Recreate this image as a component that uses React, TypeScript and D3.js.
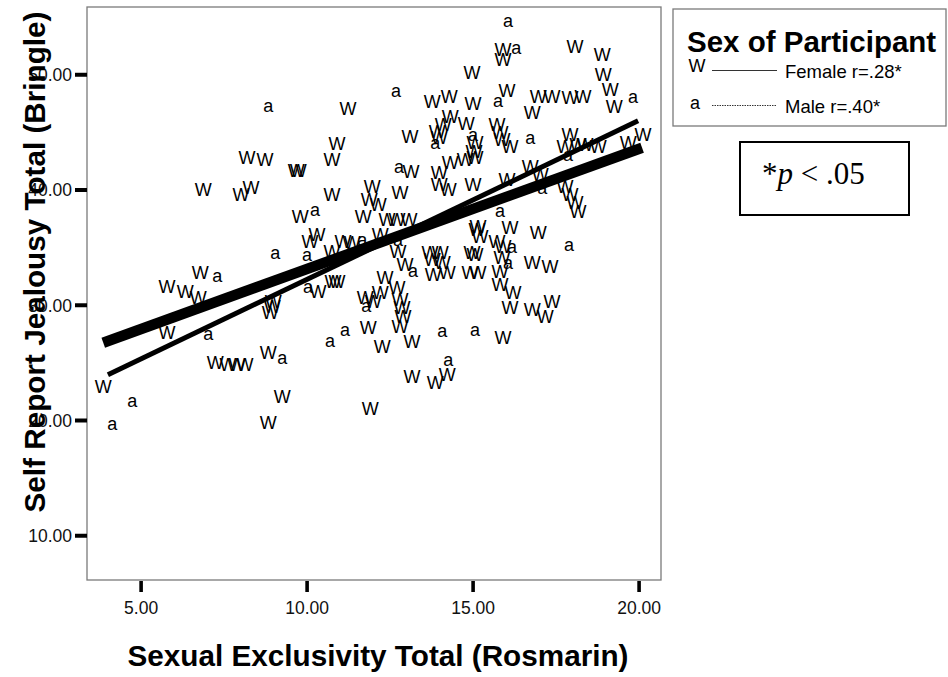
import React from "react";
import * as d3 from "d3";

// ---- data ----
const xTicks = [5, 10, 15, 20];
const yTicks = [10, 20, 30, 40, 50];
const xTitle = "Sexual Exclusivity Total (Rosmarin)";
const yTitle = "Self Report Jealousy Total (Bringle)";
const legendTitle = "Sex of Participant";
const seriesLabels = ["Female r=.28*", "Male r=.40*"];
const seriesMarkers = ["W", "a"];
const noteText = ["*", "p", " < .05"];

const femalePoints: [number, number][] = [
  [8.19, 42.8], [8.73, 42.62], [6.87, 40.02], [8.01, 39.59], [8.31, 40.2],
  [14.97, 50.17], [13.77, 47.66], [14.28, 48.09], [15.0, 47.48], [11.23, 47.05],
  [10.9, 44.01], [13.1, 44.62], [13.92, 45.05], [14.1, 45.66], [14.31, 46.36],
  [14.79, 45.75], [13.98, 44.53], [15.06, 44.1], [10.75, 42.62], [9.67, 41.67],
  [9.73, 41.67], [13.13, 41.58], [13.98, 41.5], [14.31, 42.36], [14.76, 42.62],
  [15.06, 42.8], [11.96, 40.28], [11.87, 39.15], [12.14, 38.72], [12.8, 39.76],
  [13.98, 40.46], [14.25, 40.02], [15.0, 40.46], [10.75, 39.59], [9.79, 37.68],
  [11.69, 37.68], [12.41, 37.42], [12.71, 37.42], [13.07, 37.42], [15.9, 52.17],
  [15.9, 51.3], [18.07, 52.43], [18.89, 51.74], [18.92, 50.0], [19.13, 48.7],
  [19.25, 47.22], [16.02, 48.61], [16.96, 48.09], [17.38, 48.09], [16.78, 46.7],
  [17.92, 48.0], [18.31, 48.09], [15.72, 45.66], [15.81, 44.97], [15.87, 44.36],
  [16.11, 43.75], [17.92, 44.79], [17.77, 43.75], [18.16, 43.93], [18.37, 43.93],
  [18.77, 43.75], [20.12, 44.79], [19.67, 44.1], [16.72, 42.02], [17.02, 41.32],
  [16.02, 40.89], [17.77, 40.28], [17.92, 39.59], [18.07, 38.89], [18.16, 38.11],
  [6.78, 32.82], [5.78, 31.61], [6.33, 31.17], [6.72, 30.65], [5.78, 27.61],
  [8.95, 29.87], [8.89, 29.35], [8.98, 30.3], [7.23, 25.01], [7.62, 24.84],
  [7.89, 24.84], [8.13, 24.84], [8.83, 25.88], [3.86, 22.93], [8.83, 19.8],
  [9.25, 22.06], [10.09, 35.51], [10.3, 36.12], [11.08, 35.51], [11.36, 35.42],
  [12.2, 36.12], [10.75, 34.64], [12.74, 34.64], [12.95, 33.51], [13.7, 34.56],
  [14.01, 34.56], [13.77, 33.95], [14.07, 33.69], [13.8, 32.65], [14.22, 32.82],
  [14.97, 34.56], [14.91, 32.82], [15.12, 36.55], [10.9, 32.04], [10.78, 32.04],
  [10.33, 31.17], [12.35, 32.39], [11.75, 30.65], [11.99, 30.3], [12.2, 31.08],
  [12.71, 31.52], [12.8, 30.48], [12.86, 29.78], [12.89, 29.0], [12.8, 28.13],
  [11.84, 28.05], [12.26, 26.4], [13.16, 26.83], [13.16, 23.8], [13.86, 23.28],
  [14.22, 23.97], [11.9, 21.02], [15.15, 36.81], [15.21, 35.94], [16.11, 36.72],
  [16.96, 36.29], [15.72, 35.51], [15.9, 35.08], [15.06, 34.38], [15.87, 34.12],
  [16.78, 33.69], [17.32, 33.34], [15.15, 32.82], [15.81, 32.91], [15.81, 31.78],
  [16.2, 31.08], [17.38, 30.3], [16.78, 29.61], [17.17, 29.0], [16.11, 29.78],
  [15.9, 27.18], [15.03, 43.32],
];

const malePoints: [number, number][] = [
  [8.83, 47.14], [12.68, 48.44], [13.86, 43.93], [15.0, 44.62], [12.77, 41.84],
  [10.24, 38.11], [16.05, 54.51], [16.3, 52.17], [19.82, 47.92], [15.75, 47.57],
  [16.72, 44.36], [17.86, 42.89], [17.08, 40.02], [15.81, 38.03], [9.04, 34.38],
  [7.29, 32.39], [7.02, 27.35], [9.25, 25.27], [4.73, 21.54], [4.13, 19.54],
  [10.0, 34.21], [11.66, 35.51], [12.74, 35.51], [13.19, 32.82], [10.03, 31.43],
  [11.78, 29.78], [11.14, 27.7], [10.69, 26.75], [14.07, 27.61], [15.06, 27.7],
  [14.25, 25.1], [16.17, 34.9], [17.89, 35.08], [16.05, 33.51],
];

// fitted regression lines, endpoints [x, y]
const femaleFit: [number, number][] = [[3.86, 26.75], [20.09, 43.67]];
const maleFit: [number, number][] = [[4.0, 23.97], [19.97, 46.0]];

const SANS = "'Liberation Sans', Arial, Helvetica, sans-serif";
const SERIF = "'Liberation Serif', 'Times New Roman', serif";

export default function App() {
  const left = 87, right = 661, top = 7, bottom = 580;
  const x = d3.scaleLinear().domain([3.37, 20.66]).range([left, right]);
  const y = d3.scaleLinear().domain([6.16, 55.88]).range([bottom, top]);
  const line = d3.line<[number, number]>().x((d) => x(d[0])).y((d) => y(d[1]));
  const mFont = 18;

  return (
    <svg width={948} height={677} style={{ position: "absolute", left: 0, top: 0, background: "#fff" }}>
      <rect x={0} y={0} width={948} height={677} fill="#fff" />
      {/* frame */}
      <rect x={left} y={top} width={right - left} height={bottom - top} fill="none" stroke="#7a7a7a" strokeWidth={1.3} />

      {/* y ticks */}
      {yTicks.map((t) => (
        <g key={"y" + t}>
          <line x1={75} x2={left} y1={y(t)} y2={y(t)} stroke="#000" strokeWidth={4} />
          <text x={72} y={y(t) + 6.3} textAnchor="end" fontFamily={SANS} fontSize={17.5} fill="#111">
            {t.toFixed(2)}
          </text>
        </g>
      ))}
      {/* x ticks */}
      {xTicks.map((t) => (
        <g key={"x" + t}>
          <line x1={x(t)} x2={x(t)} y1={bottom + 1} y2={592} stroke="#000" strokeWidth={3.6} />
          <text x={x(t)} y={614} textAnchor="middle" fontFamily={SANS} fontSize={17.5} fill="#111">
            {t.toFixed(2)}
          </text>
        </g>
      ))}

      {/* axis titles */}
      <text x={378} y={666} textAnchor="middle" fontFamily={SANS} fontWeight="bold" fontSize={29.7} fill="#000">
        {xTitle}
      </text>
      <text
        transform={`translate(45,262) rotate(-90)`}
        textAnchor="middle"
        fontFamily={SANS}
        fontWeight="bold"
        fontSize={29.7}
        fill="#000"
      >
        {yTitle}
      </text>

      {/* points */}
      {femalePoints.map((p, i) => (
        <text key={"f" + i} x={x(p[0])} y={y(p[1]) + 0.358 * mFont} textAnchor="middle" fontFamily={SANS} fontSize={mFont} fill="#000">
          {seriesMarkers[0]}
        </text>
      ))}
      {malePoints.map((p, i) => (
        <text key={"m" + i} x={x(p[0])} y={y(p[1]) + 0.26 * mFont} textAnchor="middle" fontFamily={SANS} fontSize={mFont} fill="#000">
          {seriesMarkers[1]}
        </text>
      ))}

      {/* fit lines */}
      <path d={line(maleFit) || ""} stroke="#000" strokeWidth={5} fill="none" />
      <path d={line(femaleFit) || ""} stroke="#000" strokeWidth={10.5} fill="none" />

      {/* legend */}
      <rect x={673} y={9} width={273} height={117} fill="#fff" stroke="#7a7a7a" strokeWidth={1.3} />
      <text x={687} y={52} fontFamily={SANS} fontWeight="bold" fontSize={29.5} fill="#000">
        {legendTitle}
      </text>
      <text x={697} y={66 + 0.358 * mFont} textAnchor="middle" fontFamily={SANS} fontSize={mFont} fill="#000">
        {seriesMarkers[0]}
      </text>
      <line x1={712} x2={777} y1={70.5} y2={70.5} stroke="#333" strokeWidth={1} />
      <text x={785} y={78} fontFamily={SANS} fontSize={18.5} fill="#000">
        {seriesLabels[0]}
      </text>
      <text x={695} y={104 + 0.26 * mFont} textAnchor="middle" fontFamily={SANS} fontSize={mFont} fill="#000">
        {seriesMarkers[1]}
      </text>
      <line x1={712} x2={777} y1={105.5} y2={105.5} stroke="#333" strokeWidth={1} strokeDasharray="1.5,1" />
      <text x={785} y={113} fontFamily={SANS} fontSize={18.5} fill="#000">
        {seriesLabels[1]}
      </text>

      {/* note */}
      <rect x={740} y={142} width={169} height={73} fill="#fff" stroke="#000" strokeWidth={2} />
      <text x={762} y={184} fontFamily={SERIF} fontSize={31} fill="#000">
        {noteText[0]}
        <tspan fontStyle="italic">{noteText[1]}</tspan>
        {noteText[2]}
      </text>
    </svg>
  );
}
